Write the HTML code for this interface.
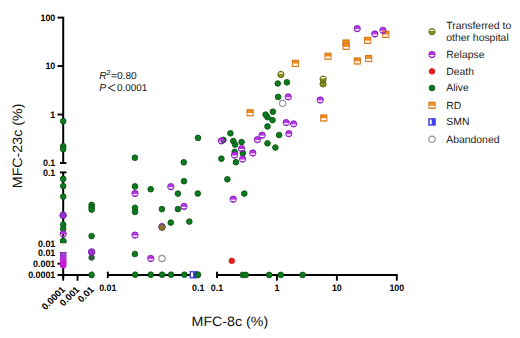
<!DOCTYPE html>
<html><head><meta charset="utf-8"><title>MFC scatter</title>
<style>
html,body{margin:0;padding:0;background:#fff;width:520px;height:338px;overflow:hidden}
svg{display:block}
text{fill:#000;text-rendering:geometricPrecision}
</style></head>
<body>
<svg width="520" height="338" viewBox="0 0 520 338">
<defs>
<clipPath id="cc"><circle r="3.15"/></clipPath>
<clipPath id="cs"><rect x="-3.1" y="-3.1" width="6.2" height="6.2"/></clipPath>
<g id="mR"><g clip-path="url(#cc)"><rect x="-4" y="-4" width="8" height="4.45" fill="#bd36e6"/><rect x="-4" y="1.85" width="8" height="2.6" fill="#bd36e6"/></g><circle r="3.15" fill="none" stroke="#7a1ab4" stroke-width="0.9"/></g>
<g id="mT"><g clip-path="url(#cc)"><rect x="-4" y="-4" width="8" height="1.9" fill="#8a9020"/><rect x="-4" y="-0.85" width="8" height="5" fill="#8a9020"/></g><circle r="3.15" fill="none" stroke="#5c600e" stroke-width="0.9"/></g>
<g id="mRD"><rect x="-3.1" y="-3.1" width="6.2" height="3.45" fill="#f28c1e"/><rect x="-3.1" y="2.4" width="6.2" height="0.7" fill="#f28c1e"/><rect x="-3.1" y="-3.1" width="6.2" height="6.2" fill="none" stroke="#d06e0e" stroke-width="0.9"/></g>
<g id="mS"><rect x="-3.3" y="-3.3" width="6.6" height="6.6" fill="#3c3cf0"/><rect x="-2.3" y="-2.4" width="2.0" height="4.8" fill="#ffffff"/><rect x="-3.3" y="-3.3" width="6.6" height="6.6" fill="none" stroke="#4a4ad6" stroke-width="0.9"/></g>
<g id="mG"><circle r="2.85" fill="#0e7a20" stroke="#075012" stroke-width="0.8"/></g>
<g id="mD"><circle r="2.9" fill="#ea1c1c" stroke="#c81414" stroke-width="0.6"/></g>
<g id="mA"><circle r="3.2" fill="#fff" stroke="#9a9a9a" stroke-width="1.2"/></g>
</defs>
<rect width="520" height="338" fill="#fff"/>
<line x1="63.2" y1="16.8" x2="63.2" y2="163.0" stroke="#000" stroke-width="2.0"/>
<line x1="63.2" y1="172.4" x2="63.2" y2="242.2" stroke="#000" stroke-width="2.0"/>
<line x1="63.2" y1="252.4" x2="63.2" y2="278.09999999999997" stroke="#000" stroke-width="2.0"/>
<line x1="57.5" y1="17.6" x2="63.2" y2="17.6" stroke="#000" stroke-width="1.9"/>
<line x1="57.5" y1="66.06666666666666" x2="63.2" y2="66.06666666666666" stroke="#000" stroke-width="1.9"/>
<line x1="57.5" y1="114.53333333333333" x2="63.2" y2="114.53333333333333" stroke="#000" stroke-width="1.9"/>
<line x1="60.0" y1="163.0" x2="66.4" y2="163.0" stroke="#000" stroke-width="1.9"/>
<line x1="60.0" y1="172.4" x2="66.4" y2="172.4" stroke="#000" stroke-width="1.9"/>
<line x1="60.0" y1="242.2" x2="66.4" y2="242.2" stroke="#000" stroke-width="1.9"/>
<line x1="60.0" y1="252.4" x2="66.4" y2="252.4" stroke="#000" stroke-width="1.9"/>
<line x1="57.5" y1="263.65" x2="63.2" y2="263.65" stroke="#000" stroke-width="1.9"/>
<line x1="57.6" y1="274.9" x2="91.9" y2="274.9" stroke="#000" stroke-width="2.0"/>
<line x1="107.8" y1="274.9" x2="198.2" y2="274.9" stroke="#000" stroke-width="2.0"/>
<line x1="217.0" y1="274.9" x2="397.6" y2="274.9" stroke="#000" stroke-width="2.0"/>
<line x1="77.55000000000001" y1="274.9" x2="77.55000000000001" y2="280.7" stroke="#000" stroke-width="1.9"/>
<line x1="276.93333333333334" y1="274.9" x2="276.93333333333334" y2="280.7" stroke="#000" stroke-width="1.9"/>
<line x1="336.8666666666667" y1="274.9" x2="336.8666666666667" y2="280.7" stroke="#000" stroke-width="1.9"/>
<line x1="396.8" y1="274.9" x2="396.8" y2="280.7" stroke="#000" stroke-width="1.9"/>
<line x1="63.2" y1="274.9" x2="63.2" y2="280.7" stroke="#000" stroke-width="1.9"/>
<line x1="91.9" y1="271.7" x2="91.9" y2="278.09999999999997" stroke="#000" stroke-width="1.9"/>
<line x1="107.8" y1="271.7" x2="107.8" y2="278.09999999999997" stroke="#000" stroke-width="1.9"/>
<line x1="198.2" y1="271.7" x2="198.2" y2="278.09999999999997" stroke="#000" stroke-width="1.9"/>
<line x1="217.0" y1="271.7" x2="217.0" y2="278.09999999999997" stroke="#000" stroke-width="1.9"/>
<use href="#mG" x="63.2" y="121.2"/>
<use href="#mG" x="63.2" y="146.2"/>
<use href="#mG" x="63.2" y="149.2"/>
<use href="#mG" x="63.2" y="178.9"/>
<use href="#mG" x="63.2" y="186.0"/>
<use href="#mG" x="63.2" y="196.6"/>
<g transform="translate(63.1,215.3)"><circle r="3.3" fill="#9a34d0" stroke="#6e1aa6" stroke-width="0.9"/></g>
<use href="#mG" x="63.2" y="224.5"/>
<use href="#mG" x="63.2" y="228.7"/>
<use href="#mR" x="63.2" y="234.0"/>
<use href="#mG" x="91.65" y="204.9"/>
<use href="#mG" x="91.65" y="207.2"/>
<use href="#mG" x="91.65" y="209.6"/>
<use href="#mG" x="91.6" y="236.1"/>
<circle cx="91.6" cy="257.5" r="2.85" fill="#2f5f3a" stroke="#2f5f3a" stroke-width="0.8"/>
<g transform="translate(91.6,252.0)"><circle r="3.3" fill="#9a34d0" stroke="#6e1aa6" stroke-width="0.9"/></g>
<use href="#mG" x="91.6" y="274.9"/>
<use href="#mG" x="134.9" y="157.7"/>
<use href="#mG" x="135.0" y="186.4"/>
<use href="#mR" x="135.0" y="193.5"/>
<use href="#mG" x="135.0" y="207.8"/>
<use href="#mG" x="135.0" y="211.9"/>
<use href="#mR" x="135.0" y="235.1"/>
<use href="#mG" x="134.9" y="254.0"/>
<use href="#mG" x="135.2" y="274.7"/>
<use href="#mG" x="150.7" y="189.2"/>
<use href="#mR" x="150.7" y="258.5"/>
<use href="#mG" x="150.8" y="274.7"/>
<use href="#mR" x="170.8" y="186.7"/>
<use href="#mG" x="184.0" y="181.2"/>
<use href="#mG" x="177.9" y="193.6"/>
<use href="#mG" x="197.8" y="193.5"/>
<use href="#mG" x="161.9" y="209.1"/>
<use href="#mG" x="177.9" y="209.1"/>
<use href="#mR" x="184.0" y="206.4"/>
<use href="#mG" x="170.8" y="222.6"/>
<use href="#mG" x="189.3" y="221.6"/>
<use href="#mR" x="162.0" y="226.6"/>
<g transform="translate(162.0,227.3)"><circle r="3.2" fill="#8a7424"/><path d="M-2.6,-1.6 A3.1,3.1 0 0 1 2.6,-1.6 Z" fill="#8f4fa8"/><circle r="3.2" fill="none" stroke="#5f4c3c" stroke-width="0.9"/></g>
<use href="#mA" x="162.0" y="258.5"/>
<use href="#mG" x="162.1" y="274.7"/>
<use href="#mG" x="171.1" y="274.7"/>
<use href="#mG" x="184.4" y="274.7"/>
<use href="#mS" x="193.3" y="274.7"/>
<use href="#mG" x="198.0" y="274.7"/>
<use href="#mG" x="183.8" y="162.3"/>
<use href="#mG" x="198.0" y="137.9"/>
<use href="#mG" x="230.4" y="133.3"/>
<use href="#mG" x="223.4" y="139.9"/>
<use href="#mR" x="221.3" y="140.9"/>
<use href="#mG" x="233.3" y="141.0"/>
<use href="#mG" x="235.1" y="144.6"/>
<use href="#mG" x="241.6" y="142.0"/>
<use href="#mG" x="242.8" y="153.2"/>
<use href="#mR" x="241.6" y="148.6"/>
<use href="#mG" x="234.7" y="151.9"/>
<use href="#mR" x="234.5" y="155.1"/>
<use href="#mR" x="242.6" y="159.1"/>
<use href="#mR" x="252.8" y="153.0"/>
<use href="#mG" x="221.4" y="158.7"/>
<use href="#mG" x="235.9" y="162.2"/>
<use href="#mG" x="227.4" y="179.3"/>
<use href="#mG" x="244.3" y="193.6"/>
<use href="#mR" x="233.2" y="199.2"/>
<use href="#mD" x="231.8" y="260.8"/>
<use href="#mG" x="242.7" y="274.9"/>
<use href="#mG" x="245.7" y="274.9"/>
<use href="#mG" x="269.2" y="274.9"/>
<use href="#mG" x="280.8" y="274.9"/>
<use href="#mG" x="302.6" y="274.9"/>
<use href="#mR" x="262.1" y="135.2"/>
<use href="#mR" x="257.4" y="139.7"/>
<use href="#mG" x="279.1" y="135.0"/>
<use href="#mR" x="288.8" y="133.7"/>
<use href="#mG" x="267.5" y="143.3"/>
<use href="#mG" x="275.4" y="147.5"/>
<use href="#mG" x="267.5" y="126.4"/>
<use href="#mG" x="272.5" y="120.1"/>
<use href="#mG" x="267.5" y="117.2"/>
<use href="#mG" x="265.6" y="114.6"/>
<use href="#mG" x="272.9" y="111.7"/>
<use href="#mR" x="286.2" y="122.6"/>
<use href="#mR" x="293.6" y="123.9"/>
<use href="#mRD" x="250.1" y="112.8"/>
<use href="#mA" x="282.6" y="103.3"/>
<use href="#mG" x="278.1" y="96.9"/>
<use href="#mR" x="288.2" y="96.9"/>
<use href="#mG" x="277.8" y="83.5"/>
<use href="#mG" x="286.9" y="82.3"/>
<use href="#mT" x="280.9" y="74.5"/>
<use href="#mRD" x="295.4" y="63.3"/>
<use href="#mT" x="323.1" y="79.1"/>
<g transform="translate(323.1,83.9)"><circle r="3.15" fill="#8a9020" stroke="#5c600e" stroke-width="0.9"/><rect x="-2.2" y="-1.9" width="4.4" height="1.0" fill="#6a6e14"/></g>
<use href="#mR" x="320.2" y="100.0"/>
<use href="#mRD" x="323.8" y="118.0"/>
<use href="#mRD" x="328.0" y="56.2"/>
<use href="#mRD" x="346.0" y="43.0"/>
<use href="#mRD" x="346.1" y="46.3"/>
<use href="#mRD" x="357.3" y="61.0"/>
<use href="#mRD" x="368.7" y="58.5"/>
<use href="#mRD" x="367.7" y="40.3"/>
<use href="#mR" x="357.2" y="28.7"/>
<use href="#mR" x="374.8" y="34.0"/>
<use href="#mRD" x="385.8" y="34.3"/>
<use href="#mR" x="382.9" y="30.3"/>
<g><circle cx="63.2" cy="255.2" r="3.4" fill="#9a3ad0"/><circle cx="63.2" cy="258.5" r="3.5" fill="#b030d8"/><circle cx="63.2" cy="262.5" r="3.5" fill="#c424d4"/><circle cx="63.2" cy="265.3" r="3.3" fill="#c21ed0"/><rect x="59" y="250.6" width="9" height="1.4" fill="#fff"/></g>
<circle cx="63.2" cy="241.0" r="3.0" fill="#0e7a20" stroke="#075012" stroke-width="0.8"/><rect x="59" y="243.3" width="9" height="1.2" fill="#fff"/>
<text x="0" y="0" transform="translate(55.3,20.80) scale(0.955,1)" text-anchor="end" style="font-family:'Liberation Sans',sans-serif;font-weight:bold;font-size:9.3px">100</text>
<text x="0" y="0" transform="translate(55.3,69.27) scale(0.955,1)" text-anchor="end" style="font-family:'Liberation Sans',sans-serif;font-weight:bold;font-size:9.3px">10</text>
<text x="0" y="0" transform="translate(55.3,117.73) scale(0.955,1)" text-anchor="end" style="font-family:'Liberation Sans',sans-serif;font-weight:bold;font-size:9.3px">1</text>
<text x="0" y="0" transform="translate(55.3,166.20) scale(0.955,1)" text-anchor="end" style="font-family:'Liberation Sans',sans-serif;font-weight:bold;font-size:9.3px">0.1</text>
<text x="0" y="0" transform="translate(55.3,175.60) scale(0.955,1)" text-anchor="end" style="font-family:'Liberation Sans',sans-serif;font-weight:bold;font-size:9.3px">0.1</text>
<text x="0" y="0" transform="translate(55.3,246.60) scale(0.955,1)" text-anchor="end" style="font-family:'Liberation Sans',sans-serif;font-weight:bold;font-size:9.3px">0.01</text>
<text x="0" y="0" transform="translate(55.3,255.70) scale(0.955,1)" text-anchor="end" style="font-family:'Liberation Sans',sans-serif;font-weight:bold;font-size:9.3px">0.01</text>
<text x="0" y="0" transform="translate(55.3,267.15) scale(0.955,1)" text-anchor="end" style="font-family:'Liberation Sans',sans-serif;font-weight:bold;font-size:9.3px">0.001</text>
<text x="0" y="0" transform="translate(55.3,278.10) scale(0.955,1)" text-anchor="end" style="font-family:'Liberation Sans',sans-serif;font-weight:bold;font-size:9.3px">0.0001</text>
<text x="0" y="0" transform="translate(107.8,290.90) scale(0.955,1)" text-anchor="middle" style="font-family:'Liberation Sans',sans-serif;font-weight:bold;font-size:9.3px">0.01</text>
<text x="0" y="0" transform="translate(198.2,290.90) scale(0.955,1)" text-anchor="middle" style="font-family:'Liberation Sans',sans-serif;font-weight:bold;font-size:9.3px">0.1</text>
<text x="0" y="0" transform="translate(217.0,290.90) scale(0.955,1)" text-anchor="middle" style="font-family:'Liberation Sans',sans-serif;font-weight:bold;font-size:9.3px">0.1</text>
<text x="0" y="0" transform="translate(276.93333333333334,290.90) scale(0.955,1)" text-anchor="middle" style="font-family:'Liberation Sans',sans-serif;font-weight:bold;font-size:9.3px">1</text>
<text x="0" y="0" transform="translate(336.8666666666667,290.90) scale(0.955,1)" text-anchor="middle" style="font-family:'Liberation Sans',sans-serif;font-weight:bold;font-size:9.3px">10</text>
<text x="0" y="0" transform="translate(396.8,290.90) scale(0.955,1)" text-anchor="middle" style="font-family:'Liberation Sans',sans-serif;font-weight:bold;font-size:9.3px">100</text>
<text x="0" y="0" transform="translate(65.7,290.2) rotate(-45)" text-anchor="end" style="font-family:'Liberation Sans',sans-serif;font-weight:bold;font-size:9.4px">0.0001</text>
<text x="0" y="0" transform="translate(80.05000000000001,290.2) rotate(-45)" text-anchor="end" style="font-family:'Liberation Sans',sans-serif;font-weight:bold;font-size:9.4px">0.001</text>
<text x="0" y="0" transform="translate(94.4,290.2) rotate(-45)" text-anchor="end" style="font-family:'Liberation Sans',sans-serif;font-weight:bold;font-size:9.4px">0.01</text>
<text x="0" y="0" transform="translate(229.9,325.8) scale(1.055,1)" text-anchor="middle" style="font-family:'Liberation Sans',sans-serif;font-size:13.5px;fill:#111">MFC-8c (%)</text>
<text x="0" y="0" transform="translate(22.1,145.9) rotate(-90) scale(1.055,1)" text-anchor="middle" style="font-family:'Liberation Sans',sans-serif;font-size:13.5px;fill:#111">MFC-23c (%)</text>
<text x="0" y="0" transform="translate(99.2,78.8) scale(1,1.0)" style="font-family:'Liberation Sans',sans-serif;font-size:10.2px;fill:#111"><tspan font-style="italic">R</tspan><tspan dy="-3.9" font-size="7.4px">2</tspan><tspan dy="3.9" dx="0.3">=0.80</tspan></text>
<text x="99.2" y="90.8" style="font-family:'Liberation Sans',sans-serif;font-size:10.2px;fill:#111;font-style:italic">P</text>
<polyline points="115.0,84.3 108.4,87.8 115.0,91.3" fill="none" stroke="#111" stroke-width="0.95"/>
<text x="117.0" y="90.8" style="font-family:'Liberation Sans',sans-serif;font-size:9.85px;fill:#111">0.0001</text>
<use href="#mT" x="432.0" y="31.7"/>
<use href="#mR" x="432.0" y="54.6"/>
<use href="#mD" x="432.0" y="71.3"/>
<use href="#mG" x="432.0" y="88.0"/>
<use href="#mRD" x="432.0" y="105.3"/>
<use href="#mS" x="432.0" y="121.9"/>
<use href="#mA" x="432.0" y="139.3"/>
<text x="0" y="0" transform="translate(446.3,29.400000000000002) scale(1,1.0)" style="font-family:'Liberation Sans',sans-serif;font-size:10.4px;fill:#1c1c1c">Transferred to</text>
<text x="0" y="0" transform="translate(446.3,40.5) scale(1,1.0)" style="font-family:'Liberation Sans',sans-serif;font-size:10.4px;fill:#1c1c1c">other hospital</text>
<text x="0" y="0" transform="translate(446.3,57.6) scale(1,1.0)" style="font-family:'Liberation Sans',sans-serif;font-size:10.4px;fill:#1c1c1c">Relapse</text>
<text x="0" y="0" transform="translate(446.3,74.6) scale(1,1.0)" style="font-family:'Liberation Sans',sans-serif;font-size:10.4px;fill:#1c1c1c">Death</text>
<text x="0" y="0" transform="translate(446.3,91.39999999999999) scale(1,1.0)" style="font-family:'Liberation Sans',sans-serif;font-size:10.4px;fill:#1c1c1c">Alive</text>
<text x="0" y="0" transform="translate(446.3,108.6) scale(1,1.0)" style="font-family:'Liberation Sans',sans-serif;font-size:10.4px;fill:#1c1c1c">RD</text>
<text x="0" y="0" transform="translate(446.3,125.3) scale(1,1.0)" style="font-family:'Liberation Sans',sans-serif;font-size:10.4px;fill:#1c1c1c">SMN</text>
<text x="0" y="0" transform="translate(446.3,142.5) scale(1,1.0)" style="font-family:'Liberation Sans',sans-serif;font-size:10.4px;fill:#1c1c1c">Abandoned</text>
</svg>
</body></html>
